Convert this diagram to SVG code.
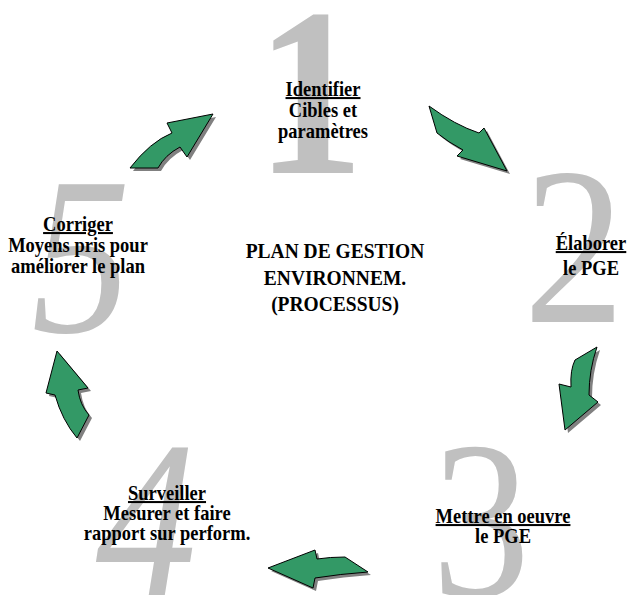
<svg xmlns="http://www.w3.org/2000/svg" width="629" height="595" viewBox="0 0 629 595">
<style>
.num{font-family:"Liberation Serif","Times New Roman",serif;fill:#c0c0c0;text-anchor:middle}
.lbl{font-family:"Liberation Serif","Times New Roman",serif;font-weight:bold;font-size:18.5px;fill:#000;text-anchor:middle}
.ttl{font-family:"Liberation Serif","Times New Roman",serif;font-weight:bold;font-size:19.5px;fill:#000;text-anchor:middle}
.arr{fill:#339966;stroke:#000;stroke-width:1;stroke-linejoin:miter}
.shd{fill:#808080}
.u{text-decoration:underline}
</style>
<rect width="629" height="595" fill="#fff"/>
<g id="numerals">
<text class="num" transform="translate(310,173) scale(0.9,1)" font-size="240" font-weight="bold">1</text>
<text class="num" transform="translate(574,322) scale(0.9,1)" font-size="225">2</text>
<text class="num" transform="translate(481,596) scale(0.87,1)" font-size="225">3</text>
<text class="num" transform="translate(146,596) scale(0.9,1)" font-size="225" font-style="italic">4</text>
<text class="num" transform="translate(81,332) scale(0.88,1)" font-size="225" font-style="italic">5</text>
</g>
<g id="title">
<text class="ttl" transform="translate(335,258) scale(1,1.12)">PLAN DE GESTION</text>
<text class="ttl" transform="translate(335,285) scale(1,1.12)">ENVIRONNEM.</text>
<text class="ttl" transform="translate(335,311) scale(1,1.12)">(PROCESSUS)</text>
</g>
<g id="node1">
<text class="lbl" transform="translate(323,96) scale(1,1.1)"><tspan class="u">Identifier</tspan></text>
<text class="lbl" transform="translate(323,117) scale(1,1.1)">Cibles et</text>
<text class="lbl" transform="translate(323,138) scale(1,1.1)">paramètres</text>
</g>
<g id="node2">
<text class="lbl" transform="translate(591,250) scale(1,1.1)"><tspan class="u">Élaborer</tspan></text>
<text class="lbl" transform="translate(591,275) scale(1,1.1)">le PGE</text>
</g>
<g id="node3">
<text class="lbl" transform="translate(503,523) scale(1,1.1)"><tspan class="u">Mettre en oeuvre</tspan></text>
<text class="lbl" transform="translate(503,543) scale(1,1.1)">le PGE</text>
</g>
<g id="node4">
<text class="lbl" transform="translate(167,500) scale(1,1.1)"><tspan class="u">Surveiller</tspan></text>
<text class="lbl" transform="translate(167,520) scale(1,1.1)">Mesurer et faire</text>
<text class="lbl" transform="translate(167,540) scale(1,1.1)">rapport sur perform.</text>
</g>
<g id="node5">
<text class="lbl" transform="translate(78,231) scale(1,1.1)"><tspan class="u">Corriger</tspan></text>
<text class="lbl" transform="translate(78,252) scale(1,1.1)">Moyens pris pour</text>
<text class="lbl" transform="translate(78,273) scale(1,1.1)">améliorer le plan</text>
</g>
<defs>
<path id="a1" d="M130,168 Q150,142 172,133 L167,123 L213,114 L187,157 L180,147 Q165,155 158,168 Z"/>
<path id="a2" d="M429,106 Q455,125 479,133 L484,128 L507,171 L457,156 L463,150 Q448,142 437,133 Z"/>
<path id="a3" d="M597,347 Q589,370 589,395 L598,402 L565,430 L559,384 L571,387 Q570,370 575,360 Z"/>
<path id="a4" d="M268,568 L315,550 L317,559 Q330,557 345,557 L368,572 Q340,574 315,578 L313,588 Z"/>
<path id="a5" d="M57,351 L88,388 L78,390 Q80,405 89,415 L77,438 Q62,420 55,395 L46,393 Z"/>
</defs>
<g id="connectors">
<use href="#a1" class="shd" transform="translate(3,3)"/>
<use href="#a2" class="shd" transform="translate(3,3)"/>
<use href="#a3" class="shd" transform="translate(3,3)"/>
<use href="#a4" class="shd" transform="translate(3,3)"/>
<use href="#a5" class="shd" transform="translate(3,3)"/>
<use href="#a1" class="arr"/>
<use href="#a2" class="arr"/>
<use href="#a3" class="arr"/>
<use href="#a4" class="arr"/>
<use href="#a5" class="arr"/>
</g>
</svg>
